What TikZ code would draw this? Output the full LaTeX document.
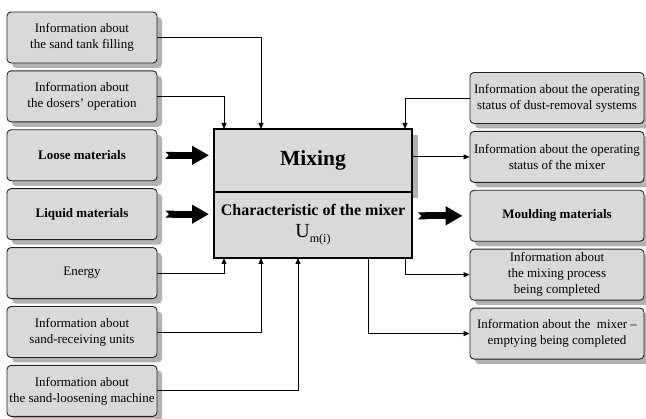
\documentclass[tikz,border=0pt]{standalone}
\usepackage{fontspec}
\setmainfont{Liberation Serif}
\usetikzlibrary{arrows.meta, positioning, shadows}
\definecolor{boxgrey}{RGB}{217, 217, 217}
\definecolor{edgegrey}{RGB}{35, 35, 35}
\tikzset{
  infobox/.style={rectangle, rounded corners=4pt, draw=edgegrey, line width=0.9pt, fill=boxgrey,
                  minimum width=#1, minimum height=51pt, align=center, inner sep=2pt,
                  font=\fontsize{13}{16}\selectfont,
                  drop shadow={shadow xshift=5pt, shadow yshift=-5pt, opacity=0.3, fill=black}},
  infobox/.default=150pt,
  mixbox/.style={rectangle, draw=black, line width=1.4pt, fill=boxgrey, minimum width=198pt,
                 minimum height=#1, align=center, outer sep=0pt},
  mixbox/.default=63pt,
  conn/.style={-{Triangle[length=6pt, width=5pt]}, line width=0.8pt},
  fatarrow/.style={line width=7pt, {Triangle Cap[reversed]}-{Triangle[length=17pt, width=18pt]}},
}

\begin{document}
\begin{tikzpicture}[x=1pt, y=1pt, node distance=7pt]
        \useasboundingbox (0,0) rectangle (646,-419);

        % Inputs
        \node[infobox] (sandtank) at (82,-37.5) {Information about\\the sand tank filling};
        \node[infobox, below=of sandtank] (dosers) {Information about\\the dosers' operation};
        \node[infobox, below=of dosers, font=\fontsize{13}{16}\selectfont\bfseries] (loose) {Loose materials};
        \node[infobox, below=of loose, font=\fontsize{13}{16}\selectfont\bfseries] (liquid) {Liquid materials};
        \node[infobox, below=of liquid] (energy) {Energy};
        \node[infobox, below=of energy] (receiving) {Information about\\sand-receiving units};
        \node[infobox, below=of receiving] (loosening) {Information about\\the sand-loosening machine};

        % Mixer
        \node[mixbox, drop shadow={shadow xshift=6pt, shadow yshift=-6pt, opacity=0.3, fill=black},
              font=\fontsize{21.5}{24}\selectfont\bfseries] (mix) at (313,-160.5) {Mixing};
        \node[mixbox=66pt, below=0pt of mix] (charac)
              {{\fontsize{16}{18}\selectfont\bfseries Characteristic of the mixer}\\[8pt]
               {\fontsize{20}{20}\selectfont U\raisebox{-5pt}{\fontsize{12}{12}\selectfont m(i)}}};

        % Outputs
        \node[infobox=174pt] (dust) at (557,-98) {Information about the operating\\status of dust-removal systems};
        \node[infobox=174pt, below=of dust] (status) {Information about the operating\\status of the mixer};
        \node[infobox=174pt, below=of status, font=\fontsize{13}{16}\selectfont\bfseries] (mould) {Moulding materials};
        \node[infobox=174pt, below=of mould] (mixdone) {Information about\\the mixing process\\being completed};
        \node[infobox=174pt, below=of mixdone] (emptydone) {Information about the\ \ mixer --\\emptying being completed};

        \draw[conn] (sandtank.east) -| ([xshift=47pt]mix.north west);
        \draw[conn] (dosers.east) -| ([xshift=10pt]mix.north west);
        \draw[fatarrow] ([xshift=8pt]loose.east) -- ([xshift=-5pt]loose.east -| mix.west);
        \draw[fatarrow] ([xshift=8pt]liquid.east) -- ([xshift=-5pt]liquid.east -| charac.west);
        \draw[conn] (energy.east) -| ([xshift=10pt]charac.south west);
        \draw[conn] (receiving.east) -| ([xshift=47pt]charac.south west);
        \draw[conn] (loosening.east) -| ([xshift=84pt]charac.south west);

        \draw[conn] (dust.west) -| ([xshift=-7pt]mix.north east);
        \draw[conn] (status.west -| mix.east) -- (status.west);
        \draw[fatarrow] ([xshift=6pt]mould.west -| charac.east) -- ([xshift=-7pt]mould.west);
        \draw[conn] ([xshift=-7pt]charac.south east) |- (mixdone.west);
        \draw[conn] ([xshift=-44pt]charac.south east) |- (emptydone.west);
      \end{tikzpicture}
\end{document}
